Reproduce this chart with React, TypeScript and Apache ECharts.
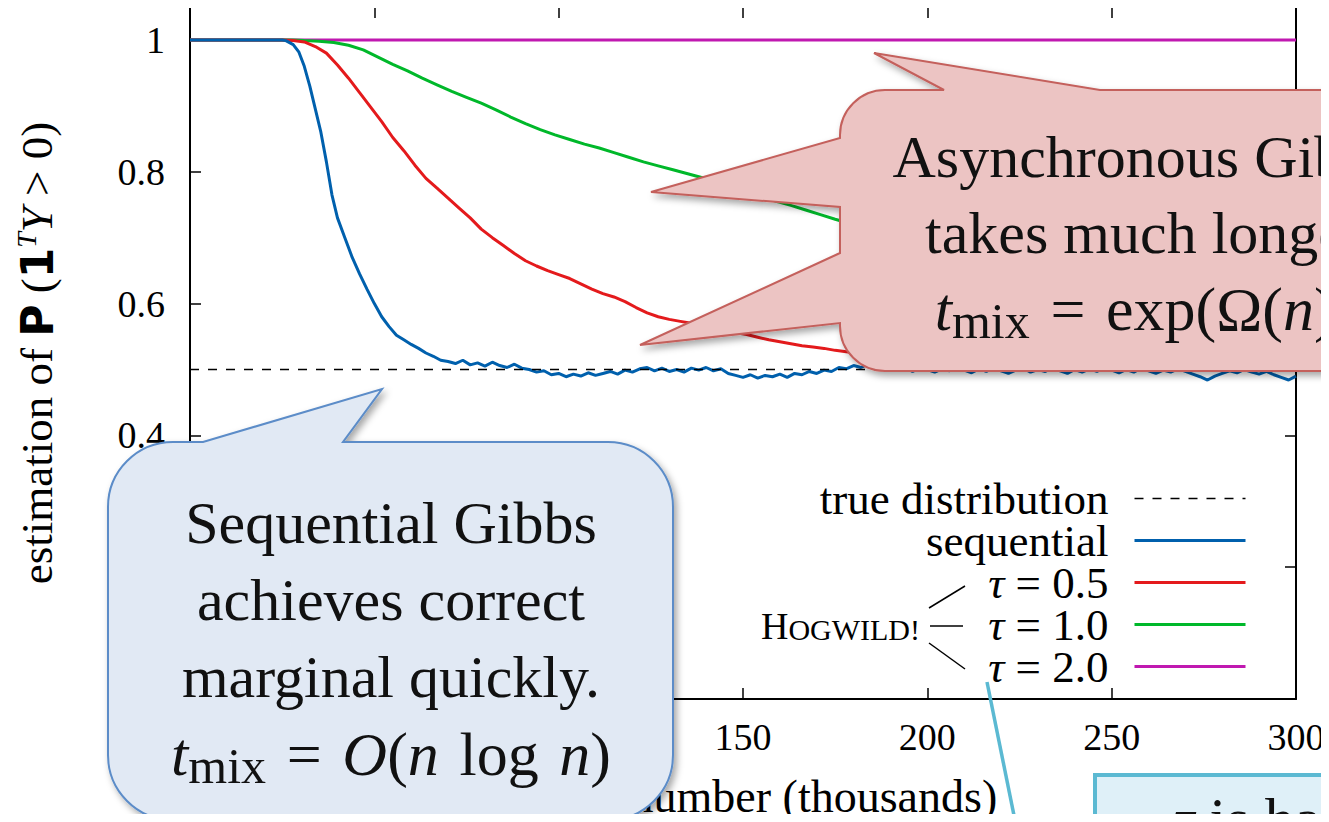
import React, { useEffect, useRef } from "react";
import * as echarts from "echarts";

const SERIF = "'Liberation Serif', 'Times New Roman', serif";

const seriesNames = ["true distribution", "sequential", "τ = 0.5", "τ = 1.0", "τ = 2.0"];
const seriesColors = ["#000000", "#0060AD", "#E41A1C", "#00B82A", "#C018B0"];

const trueDist: [number, number][] = [[0, 0.5], [300, 0.5]];

const sequential: [number, number][] = [
  [0, 1], [20, 1], [25, 1], [26, 0.999], [28, 0.993], [29.5, 0.982], [31, 0.96], [32.5, 0.93],
  [34, 0.895], [35.5, 0.86], [37, 0.815], [38.5, 0.765], [40, 0.73], [42, 0.7], [44, 0.67],
  [46, 0.645], [48, 0.622], [50, 0.6], [52, 0.58], [54, 0.565], [56, 0.552], [58, 0.545],
  [60, 0.538], [62, 0.532], [64, 0.525], [66, 0.52], [68, 0.514], [70, 0.512], [72, 0.509],
  [74, 0.514], [76, 0.507], [78, 0.51], [80, 0.505], [82, 0.511], [84, 0.506], [86, 0.503],
  [88, 0.508], [90, 0.502], [92, 0.5], [94, 0.496], [96, 0.498], [98, 0.492], [100, 0.494],
  [102, 0.489], [104, 0.493], [106, 0.49], [108, 0.495], [110, 0.491], [112, 0.494], [114, 0.497],
  [116, 0.493], [118, 0.499], [120, 0.496], [122, 0.501], [124, 0.503], [126, 0.498], [128, 0.502],
  [130, 0.497], [132, 0.5], [134, 0.496], [136, 0.502], [138, 0.499], [140, 0.503], [142, 0.498],
  [144, 0.501], [146, 0.494], [148, 0.491], [150, 0.488], [152, 0.492], [154, 0.487], [156, 0.491],
  [158, 0.489], [160, 0.493], [162, 0.488], [164, 0.494], [166, 0.492], [168, 0.497], [170, 0.494],
  [172, 0.499], [174, 0.497], [176, 0.503], [178, 0.501], [180, 0.506], [182, 0.503], [184, 0.508],
  [186, 0.504], [188, 0.501], [190, 0.505], [192, 0.499], [194, 0.503], [196, 0.497], [198, 0.502],
  [200, 0.5], [202, 0.496], [204, 0.501], [206, 0.498], [208, 0.504], [210, 0.499], [212, 0.495],
  [214, 0.501], [216, 0.497], [218, 0.503], [220, 0.498], [222, 0.494], [224, 0.499], [226, 0.502],
  [228, 0.496], [230, 0.5], [232, 0.497], [234, 0.503], [236, 0.498], [238, 0.494], [240, 0.5],
  [242, 0.496], [244, 0.501], [246, 0.497], [248, 0.503], [250, 0.499], [252, 0.495], [254, 0.5],
  [256, 0.496], [258, 0.502], [260, 0.498], [262, 0.494], [264, 0.499], [266, 0.496], [268, 0.501],
  [270, 0.497], [272, 0.493], [274, 0.489], [276, 0.484], [278, 0.49], [280, 0.494], [282, 0.498],
  [284, 0.495], [286, 0.5], [288, 0.496], [290, 0.493], [292, 0.497], [294, 0.492], [296, 0.488],
  [298, 0.484], [300, 0.49],
];

const tau05: [number, number][] = [
  [0, 1], [25, 1], [28, 0.999], [31, 0.997], [34, 0.99], [37, 0.98], [40, 0.962], [43, 0.942],
  [46, 0.92], [49, 0.898], [52, 0.876], [55, 0.852], [58, 0.832], [61, 0.81], [64, 0.79],
  [67, 0.775], [70, 0.76], [73, 0.745], [76, 0.73], [79, 0.713], [82, 0.7], [85, 0.688],
  [88, 0.676], [91, 0.665], [94, 0.657], [97, 0.65], [100, 0.644], [103, 0.638], [106, 0.63],
  [109, 0.622], [112, 0.615], [115, 0.61], [118, 0.603], [121, 0.594], [124, 0.586], [127, 0.58],
  [130, 0.576], [133, 0.573], [136, 0.57], [139, 0.566], [142, 0.562], [145, 0.559], [148, 0.556],
  [151, 0.553], [154, 0.549], [157, 0.545], [160, 0.542], [163, 0.539], [166, 0.536], [169, 0.534],
  [172, 0.532], [175, 0.529], [178, 0.527], [185, 0.522], [200, 0.516], [220, 0.511], [250, 0.507],
  [280, 0.504], [300, 0.503],
];

const tau10: [number, number][] = [
  [0, 1], [28, 1], [31, 0.999], [35, 0.998], [39, 0.996], [43, 0.992], [47, 0.985], [51, 0.974],
  [55, 0.963], [59, 0.953], [63, 0.942], [67, 0.932], [71, 0.922], [75, 0.913], [79, 0.904],
  [83, 0.894], [87, 0.883], [91, 0.873], [95, 0.864], [99, 0.856], [103, 0.849], [107, 0.842],
  [111, 0.836], [115, 0.829], [119, 0.822], [123, 0.815], [127, 0.809], [131, 0.803], [135, 0.797],
  [139, 0.791], [143, 0.784], [147, 0.776], [151, 0.769], [155, 0.762], [159, 0.755], [163, 0.749],
  [167, 0.742], [171, 0.735], [175, 0.728], [185, 0.712], [200, 0.69], [220, 0.66], [240, 0.635],
  [260, 0.61], [280, 0.59], [300, 0.57],
];

const tau20: [number, number][] = [[0, 1], [300, 1]];

// tick labels that the reference leaves visible (the others sit under the blue callout)
const xTickLabels = [150, 200, 250, 300];
const yTickLabels = [0.4, 0.6, 0.8, 1];

const RED_CALLOUT =
  "M 885 90 L 944 90 L 874 53 L 1100 90 L 1430 90 A 45 45 0 0 1 1475 135 L 1475 326 " +
  "A 45 45 0 0 1 1430 371 L 885 371 A 45 45 0 0 1 840 326 L 840 323 L 640 345 L 840 253 " +
  "L 840 207 L 651 192 L 840 138 L 840 135 A 45 45 0 0 1 885 90 Z";
const BLUE_CALLOUT =
  "M 173 442 L 203 442 L 382 389 L 343 442 L 608 442 A 65 65 0 0 1 673 507 L 673 755 " +
  "A 65 65 0 0 1 608 820 L 173 820 A 65 65 0 0 1 108 755 L 108 507 A 65 65 0 0 1 173 442 Z";

echarts.graphic.registerShape("redCallout", echarts.graphic.extendPath(RED_CALLOUT, {}));
echarts.graphic.registerShape("blueCallout", echarts.graphic.extendPath(BLUE_CALLOUT, {}));

const SP = "\u2004";

export default function App() {
  const ref = useRef<HTMLDivElement>(null);
  useEffect(() => {
    if (!ref.current) return;
    const chart = echarts.init(ref.current, null, { renderer: "svg" });
    const axisLine = { show: true, onZero: false, lineStyle: { color: "#000", width: 2 } };
    const axisTick = { show: true, inside: true, length: 11, lineStyle: { color: "#000", width: 1.5 } };
    const xFmt = (v: number) => (xTickLabels.some((t) => Math.abs(t - v) < 1e-6) ? String(v) : "");
    const yFmt = (v: number) =>
      yTickLabels.some((t) => Math.abs(t - v) < 1e-6) ? String(Math.round(v * 10) / 10) : "";
    const shadow = { shadowBlur: 7, shadowOffsetX: 3, shadowOffsetY: 4, shadowColor: "rgba(0,0,0,0.35)" };
    const lineSeries = (idx: number, data: [number, number][], width: number, z: number, dashed = false) => ({
      type: "line",
      name: seriesNames[idx],
      data,
      symbol: "none",
      showSymbol: false,
      silent: true,
      z,
      color: seriesColors[idx],
      lineStyle: { color: seriesColors[idx], width, type: dashed ? [9, 9] : "solid" },
    });
    const mathRich = {
      it: { fontStyle: "italic", fontSize: 62, fontFamily: SERIF, lineHeight: 77 },
      m: { fontSize: 62, fontFamily: SERIF, lineHeight: 77 },
      sub: { fontSize: 50, fontFamily: SERIF, lineHeight: 53, padding: [24, 0, 0, 0] },
    };
    chart.setOption({
      animation: false,
      backgroundColor: "#ffffff",
      grid: { left: 190, right: 33, top: 7, bottom: 123, containLabel: false, outerBoundsMode: "none" },
      xAxis: [
        {
          type: "value", min: 0, max: 300, interval: 50, position: "bottom",
          axisLine, axisTick,
          axisLabel: { show: true, margin: 19, color: "#000", fontSize: 38, fontFamily: SERIF, formatter: xFmt },
          splitLine: { show: false },
          name: "sample number (thousands)", nameLocation: "middle", nameGap: 74, nameMoveOverlap: false,
          nameTextStyle: { color: "#000", fontSize: 46, fontFamily: SERIF },
        },
        {
          type: "value", min: 0, max: 300, interval: 50, position: "top",
          axisLine, axisTick, axisLabel: { show: false }, splitLine: { show: false },
        },
      ],
      yAxis: [
        {
          type: "value", min: 0, max: 1.05, interval: 0.2, position: "left",
          axisLine, axisTick,
          axisLabel: { show: true, margin: 25, color: "#000", fontSize: 38, fontFamily: SERIF, formatter: yFmt },
          splitLine: { show: false },
          name: "estimation of {b|P} ({b|1}{sup|T}{i|Y} > 0)",
          nameLocation: "middle", nameRotate: 90, nameGap: 128, nameMoveOverlap: false,
          nameTextStyle: {
            color: "#000", fontSize: 45, fontFamily: SERIF,
            rich: {
              b: { fontSize: 44, fontWeight: "bold", fontFamily: "'DejaVu Sans', sans-serif", color: "#000" },
              sup: { fontSize: 28, fontStyle: "italic", fontFamily: SERIF, padding: [0, 0, 22, 0], color: "#000" },
              i: { fontSize: 45, fontStyle: "italic", fontFamily: SERIF, color: "#000" },
            },
          },
        },
        {
          type: "value", min: 0, max: 1.05, interval: 0.2, position: "right",
          axisLine, axisTick, axisLabel: { show: false }, splitLine: { show: false },
        },
      ],
      legend: {
        show: true,
        orient: "vertical",
        align: "right",
        right: 82,
        top: 476,
        padding: 0,
        itemGap: -3,
        itemWidth: 111,
        itemHeight: 14,
        selectedMode: false,
        itemStyle: { opacity: 0 },
        data: [
          { name: seriesNames[0], lineStyle: { width: 1.5, type: [9, 9] } },
          { name: seriesNames[1], lineStyle: { width: 3 } },
          { name: seriesNames[2], lineStyle: { width: 3 } },
          { name: seriesNames[3], lineStyle: { width: 3 } },
          { name: seriesNames[4], lineStyle: { width: 3 } },
        ],
        formatter: (name: string) => (name.startsWith("τ") ? "{i|τ}" + name.slice(1) : name),
        textStyle: {
          color: "#000", fontSize: 45, fontFamily: SERIF, lineHeight: 42, padding: [0, 21, 0, 0],
          rich: { i: { fontStyle: "italic", fontSize: 45, fontFamily: SERIF, color: "#000", lineHeight: 42 } },
        },
      },
      series: [
        lineSeries(4, tau20, 3, 2),
        lineSeries(3, tau10, 3, 3),
        lineSeries(2, tau05, 3, 4),
        lineSeries(1, sequential, 3, 5),
        lineSeries(0, trueDist, 1.5, 6, true),
      ],
      graphic: [
        {
          type: "text", z: 100, x: 920, y: 626,
          style: {
            text: "{h|H}{s|OGWILD!}", align: "right", verticalAlign: "middle", fill: "#000",
            rich: {
              h: { fontSize: 38, fontFamily: SERIF, lineHeight: 40 },
              s: { fontSize: 30, fontFamily: SERIF, lineHeight: 34, padding: [6, 0, 0, 0] },
            },
          },
        },
        { type: "line", z: 100, shape: { x1: 929, y1: 608, x2: 965, y2: 586 }, style: { stroke: "#000", lineWidth: 1.5 } },
        { type: "line", z: 100, shape: { x1: 930, y1: 626, x2: 963, y2: 626 }, style: { stroke: "#000", lineWidth: 1.5 } },
        { type: "line", z: 100, shape: { x1: 929, y1: 643, x2: 965, y2: 669 }, style: { stroke: "#000", lineWidth: 1.5 } },
        {
          type: "redCallout", z: 100, x: 0, y: 0,
          style: { fill: "#ECC4C3", stroke: "#C4605C", lineWidth: 2, ...shadow },
        },
        {
          type: "text", z: 101, x: 1145, y: 233,
          style: {
            text:
              "Asynchronous Gibbs\ntakes much longer\n" +
              `{it|t}{sub|mix}{m|${SP}=${SP}exp(Ω(}{it|n}{m|))}`,
            align: "center", verticalAlign: "middle", fill: "#111",
            fontSize: 60, fontFamily: SERIF, lineHeight: 76,
            rich: mathRich,
          },
        },
        {
          type: "blueCallout", z: 100, x: 0, y: 0,
          style: { fill: "#E1E9F4", stroke: "#5B8CC8", lineWidth: 2, ...shadow },
        },
        {
          type: "text", z: 101, x: 391, y: 638,
          style: {
            text:
              "Sequential Gibbs\nachieves correct\nmarginal quickly.\n" +
              `{it|t}{sub|mix}{m|${SP}=${SP}}{it|O}{m|(}{it|n}{m|${SP}log${SP}}{it|n}{m|)}`,
            align: "center", verticalAlign: "middle", fill: "#111",
            fontSize: 60, fontFamily: SERIF, lineHeight: 77,
            rich: mathRich,
          },
        },
        {
          type: "line", z: 100, shape: { x1: 987, y1: 682, x2: 1021, y2: 850 },
          style: { stroke: "#5BB9D2", lineWidth: 3.5 },
        },
        {
          type: "rect", z: 100, shape: { x: 1095, y: 775, width: 420, height: 200 },
          style: { fill: "#DFF0F8", stroke: "#5BB9D2", lineWidth: 4 },
        },
        {
          type: "text", z: 101, x: 1173, y: 819,
          style: {
            text: "{it|τ} is hard to tune", align: "left", verticalAlign: "middle", fill: "#111",
            fontSize: 60, fontFamily: SERIF,
            rich: { it: { fontStyle: "italic", fontSize: 60, fontFamily: SERIF } },
          },
        },
      ],
    });
    return () => chart.dispose();
  }, []);
  return <div ref={ref} style={{ width: 1329, height: 822, margin: -8 }} />;
}
